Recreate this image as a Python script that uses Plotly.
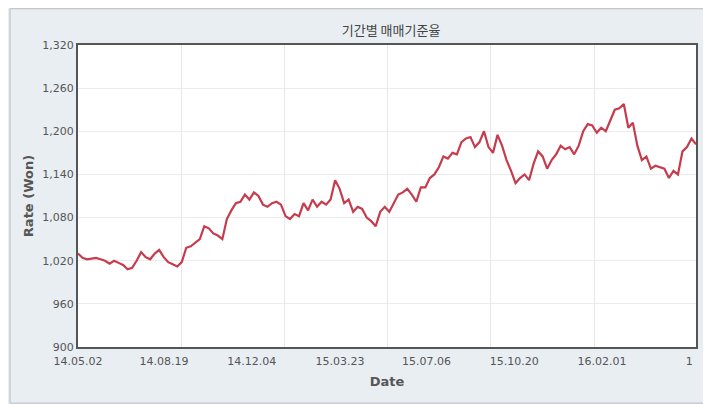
import plotly.graph_objects as go

rates = [1030,1024,1022,1023,1024,1022,1020,1016,1020,1017,1014,1008,1010,1020,1032,1025,1022,1030,1035,1025,
         1018,1015,1012,1018,1038,1040,1045,1050,1068,1065,1058,1055,1050,1078,1090,1100,1102,1112,1105,1115,
         1110,1098,1095,1100,1102,1098,1082,1078,1085,1082,1100,1090,1105,1095,1102,1098,1105,1132,1120,1100,
         1105,1088,1095,1092,1080,1075,1068,1088,1095,1088,1100,1112,1115,1120,1112,1102,1122,1122,1135,1140,
         1150,1165,1162,1170,1168,1185,1190,1192,1178,1185,1200,1178,1170,1195,1180,1160,1145,1128,1135,1140,
         1132,1155,1172,1165,1148,1160,1168,1180,1175,1178,1168,1180,1200,1210,1208,1198,1205,1200,1215,1230,
         1232,1238,1205,1212,1180,1160,1165,1148,1152,1150,1148,1135,1145,1140,1172,1178,1190,1182]
tick_labels = ["14.05.02","14.08.19","14.12.04","15.03.23","15.07.06","15.10.20","16.02.01","1"]
label_frac = [0.0,0.139,0.281,0.424,0.564,0.706,0.848,0.989]
grid_frac = [0.167,0.334,0.501,0.668,0.835]
y_ticks = [900,960,1020,1080,1140,1200,1260,1320]

n = len(rates)
idx = list(range(n))
span = n - 1

fig = go.Figure()
fig.add_trace(go.Scatter(x=idx, y=rates, mode="lines",
                         line=dict(color="#c63c4d", width=2.2), showlegend=False, hoverinfo="skip"))
fig.add_trace(go.Scatter(x=[0], y=[None], xaxis="x2", showlegend=False))

font = dict(family="DejaVu Sans", size=11, color="#555")
fig.update_layout(
    width=703, height=396,
    margin=dict(l=70, r=15, t=37, b=57),
    paper_bgcolor="#e9eef2", plot_bgcolor="white",
    font=font,
    title=dict(text="기간별 매매기준율", x=0.545, xanchor="center", y=0.955,
               font=dict(family="Noto Sans CJK KR", size=13, color="#444")),
    xaxis=dict(range=[0, span], tickvals=[f*span for f in label_frac], ticktext=tick_labels,
               showgrid=False, zeroline=False, ticks="", showline=True, linecolor="#555", linewidth=2,
               mirror=True, title=dict(text="<b>Date</b>", standoff=10), tickfont=font,
               ticklabelstandoff=3),
    xaxis2=dict(range=[0, span], overlaying="x", side="bottom", tickvals=[f*span for f in grid_frac],
                showticklabels=False, showgrid=True, gridcolor="#e8e8e8", zeroline=False),
    yaxis=dict(range=[900, 1320], tickvals=y_ticks, tickformat=",", showgrid=True, gridcolor="#ececec",
               zeroline=False, showline=True, linecolor="#555", linewidth=2, mirror=True, ticks="",
               title=dict(text="<b>Rate (Won)</b>", standoff=6)),
)
fig.add_shape(type="rect", xref="paper", yref="paper", x0=-0.11, x1=1.022, y0=-0.186, y1=1.12,
              line=dict(color="#b8bcc0", width=1))
fig.write_html("out.html")
